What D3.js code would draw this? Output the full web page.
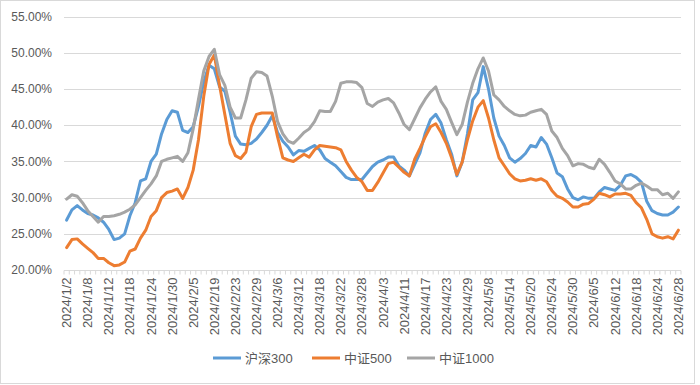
<!DOCTYPE html>
<html>
<head>
<meta charset="utf-8">
<script src="https://cdn.jsdelivr.net/npm/d3@7"></script>
<style>
  body { margin: 0; background: #fff; }
  svg { display: block; font-family: "Liberation Sans", Arial, "Noto Sans CJK SC", sans-serif; }
</style>
</head>
<body>
<svg id="chart" width="700" height="385"></svg>
<script>
// trading days, 2024/1/2 .. 2024/6/28
var dates = [
  '2024/1/2','2024/1/3','2024/1/4','2024/1/5','2024/1/8','2024/1/9','2024/1/10','2024/1/11','2024/1/12',
  '2024/1/15','2024/1/16','2024/1/17','2024/1/18','2024/1/19','2024/1/22','2024/1/23','2024/1/24','2024/1/25',
  '2024/1/26','2024/1/29','2024/1/30','2024/1/31','2024/2/1','2024/2/2','2024/2/5','2024/2/6','2024/2/7',
  '2024/2/8','2024/2/19','2024/2/20','2024/2/21','2024/2/22','2024/2/23','2024/2/26','2024/2/27','2024/2/28',
  '2024/2/29','2024/3/1','2024/3/4','2024/3/5','2024/3/6','2024/3/7','2024/3/8','2024/3/11','2024/3/12',
  '2024/3/13','2024/3/14','2024/3/15','2024/3/18','2024/3/19','2024/3/20','2024/3/21','2024/3/22','2024/3/25',
  '2024/3/26','2024/3/27','2024/3/28','2024/3/29','2024/4/1','2024/4/2','2024/4/3','2024/4/8','2024/4/9',
  '2024/4/10','2024/4/11','2024/4/12','2024/4/15','2024/4/16','2024/4/17','2024/4/18','2024/4/19','2024/4/22',
  '2024/4/23','2024/4/24','2024/4/25','2024/4/26','2024/4/29','2024/4/30','2024/5/6','2024/5/7','2024/5/8',
  '2024/5/9','2024/5/10','2024/5/13','2024/5/14','2024/5/15','2024/5/16','2024/5/17','2024/5/20','2024/5/21',
  '2024/5/22','2024/5/23','2024/5/24','2024/5/27','2024/5/28','2024/5/29','2024/5/30','2024/5/31','2024/6/3',
  '2024/6/4','2024/6/5','2024/6/6','2024/6/7','2024/6/11','2024/6/12','2024/6/13','2024/6/14','2024/6/17',
  '2024/6/18','2024/6/19','2024/6/20','2024/6/21','2024/6/24','2024/6/25','2024/6/26','2024/6/27','2024/6/28'
];

// values in %
var hs300 = [
  26.9,28.3,28.9,28.3,27.8,27.6,27.2,26.6,25.6,24.2,24.4,25.0,27.5,29.3,32.3,32.6,35.0,36.0,38.8,40.8,
  42.0,41.8,39.3,39.0,39.8,42.6,46.0,48.3,47.8,45.3,44.7,41.8,38.5,37.4,37.3,37.5,38.1,39.0,40.0,41.3,
  39.0,37.8,37.0,35.9,36.5,36.4,36.8,37.2,36.6,35.4,34.9,34.4,33.6,32.8,32.5,32.5,32.5,33.4,34.3,34.9,
  35.2,35.6,35.6,34.4,33.8,33.0,34.6,36.2,38.9,40.8,41.5,40.3,38.0,36.0,33.0,34.9,38.8,43.5,44.5,48.1,
  45.0,41.0,38.5,37.2,35.5,34.9,35.4,36.1,37.2,37.0,38.3,37.4,35.5,33.4,32.9,31.2,30.0,29.7,30.1,29.9,
  29.9,30.8,31.4,31.2,31.0,31.7,33.0,33.2,32.8,32.1,29.5,28.2,27.8,27.6,27.6,28.0,28.7
];
var zz500 = [
  23.1,24.2,24.3,23.6,23.0,22.4,21.6,21.6,21.0,20.6,20.7,21.1,22.6,22.9,24.4,25.5,27.4,28.2,30.0,30.7,
  30.9,31.2,29.9,31.4,33.8,38.0,44.0,48.4,49.7,45.5,41.5,37.5,35.8,35.4,36.3,39.8,41.5,41.7,41.7,41.7,
  38.4,35.5,35.2,35.0,35.5,36.0,35.6,36.6,37.2,37.1,37.0,36.9,36.6,35.0,33.8,32.8,32.2,31.0,31.0,32.1,
  33.4,34.7,34.9,34.2,33.5,33.0,35.3,36.8,38.4,39.8,40.2,39.0,37.5,35.5,33.2,34.9,38.0,40.6,42.5,43.4,
  41.0,38.0,35.5,34.4,33.3,32.6,32.3,32.4,32.6,32.4,32.6,32.2,31.0,30.2,29.9,29.4,28.7,28.7,29.1,29.2,
  29.8,30.6,30.4,30.1,30.5,30.5,30.6,30.3,29.3,28.6,27.0,25.0,24.6,24.4,24.6,24.3,25.5
];
var zz1000 = [
  29.8,30.4,30.2,29.3,28.2,27.4,26.6,27.4,27.4,27.5,27.7,28.0,28.4,29.0,30.0,31.0,31.9,33.0,35.0,35.3,
  35.5,35.7,35.0,36.2,39.5,43.6,47.5,49.5,50.5,47.0,45.5,42.5,41.0,41.0,43.5,46.5,47.4,47.3,46.8,44.0,
  40.5,38.8,37.8,37.5,38.2,39.0,39.5,40.5,42.0,41.9,41.9,43.3,45.8,46.0,46.0,45.9,45.2,43.0,42.6,43.2,
  43.5,43.7,43.1,41.7,40.1,39.4,40.9,42.4,43.6,44.6,45.3,43.3,42.2,40.4,38.7,40.1,43.2,45.8,47.8,49.3,
  47.5,44.2,43.5,42.6,42.0,41.5,41.3,41.4,41.8,42.0,42.2,41.5,39.2,38.3,36.8,35.8,34.4,34.7,34.6,34.2,
  34.0,35.3,34.6,33.5,32.3,31.9,31.2,31.2,31.7,32.0,31.6,31.1,31.1,30.4,30.6,29.9,30.8
];

var seriesNames = ['沪深300', '中证500', '中证1000'];
var seriesColors = ['#5B9BD5', '#ED7D31', '#A5A5A5'];
var yTicks = [20, 25, 30, 35, 40, 45, 50, 55];

var series = [hs300, zz500, zz1000];

var svg = d3.select('#chart');

// outer frame
svg.append('rect')
  .attr('x', 0.5).attr('y', 0.5)
  .attr('width', 694).attr('height', 383)
  .attr('fill', '#fff')
  .attr('stroke', '#d9d9d9');

var plotLeft = 64, plotRight = 681, plotTop = 16.7, plotBottom = 270;

var x = d3.scaleBand().domain(dates).range([plotLeft, plotRight]);
var y = d3.scaleLinear().domain([20, 55]).range([plotBottom, plotTop]);
var cx = function(d) { return x(d) + x.bandwidth() / 2; };

// gridlines
svg.append('g')
  .selectAll('line')
  .data(yTicks.slice(1))
  .enter().append('line')
    .attr('x1', plotLeft).attr('x2', plotRight)
    .attr('y1', function(d) { return Math.round(y(d)) + 0.5; })
    .attr('y2', function(d) { return Math.round(y(d)) + 0.5; })
    .attr('stroke', '#d9d9d9');

// y axis labels
svg.append('g')
  .selectAll('text')
  .data(yTicks)
  .enter().append('text')
    .attr('x', 52)
    .attr('y', function(d) { return y(d); })
    .attr('dy', '0.35em')
    .attr('text-anchor', 'end')
    .attr('font-size', 12)
    .attr('fill', '#595959')
    .text(function(d) { return d.toFixed(2) + '%'; });

// x axis line + category ticks
var axisY = Math.round(y(20)) + 0.5;
svg.append('line')
  .attr('x1', plotLeft).attr('x2', plotRight)
  .attr('y1', axisY).attr('y2', axisY)
  .attr('stroke', '#d9d9d9');

svg.append('g')
  .selectAll('line')
  .data(dates.concat(['end']))
  .enter().append('line')
    .attr('x1', function(d) { return d === 'end' ? plotRight : x(d); })
    .attr('x2', function(d) { return d === 'end' ? plotRight : x(d); })
    .attr('y1', axisY).attr('y2', axisY + 4)
    .attr('stroke', '#d9d9d9');

// x labels, every 4th trading day
svg.append('g')
  .selectAll('text')
  .data(dates.filter(function(d, i) { return i % 4 === 0; }))
  .enter().append('text')
    .attr('transform', function(d) { return 'translate(' + (cx(d) + 4.5) + ',' + (axisY + 7) + ') rotate(-90)'; })
    .attr('text-anchor', 'end')
    .attr('font-size', 13)
    .attr('fill', '#595959')
    .text(function(d) { return d; });

// lines
var line = d3.line()
  .x(function(d, i) { return cx(dates[i]); })
  .y(function(d) { return y(d); });

svg.append('g')
  .selectAll('path')
  .data(series)
  .enter().append('path')
    .attr('d', function(d) { return line(d); })
    .attr('fill', 'none')
    .attr('stroke', function(d, i) { return seriesColors[i]; })
    .attr('stroke-width', 3)
    .attr('stroke-linejoin', 'round')
    .attr('stroke-linecap', 'round');

// legend
var legendX = [213, 312, 407];
var legend = svg.append('g')
  .selectAll('g')
  .data(seriesNames)
  .enter().append('g')
    .attr('transform', function(d, i) { return 'translate(' + legendX[i] + ',358)'; });

legend.append('line')
  .attr('x1', 0).attr('x2', 28)
  .attr('stroke', function(d, i) { return seriesColors[i]; })
  .attr('stroke-width', 3);

legend.append('text')
  .attr('x', 32)
  .attr('dy', '0.35em')
  .attr('font-size', 13)
  .attr('fill', '#595959')
  .text(function(d) { return d; });
</script>
</body>
</html>
